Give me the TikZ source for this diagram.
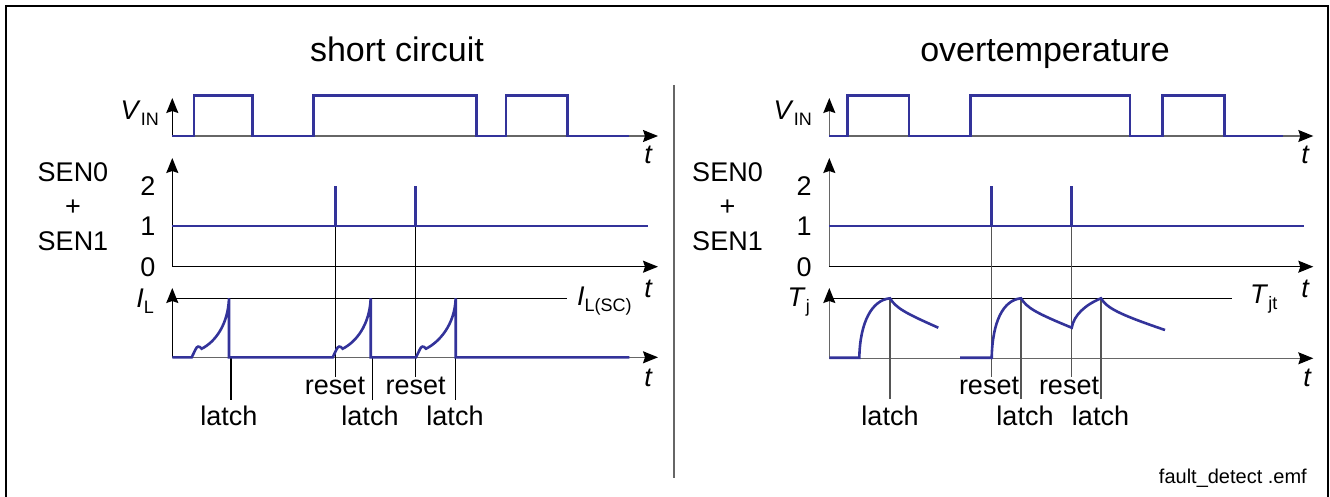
\documentclass[tikz,border=0pt]{standalone}
\usepackage{fontspec}
\setsansfont{Liberation Sans}
\usetikzlibrary{arrows.meta}

\definecolor{sigblue}{HTML}{33339A}
\definecolor{axisgray}{HTML}{666666}
\definecolor{markgray}{HTML}{555555}

\newcommand{\picwidth}{1330}
\newcommand{\picheight}{497}
\newcommand{\symsub}[2]{\textit{#1}\raisebox{-6pt}{\fontsize{18}{20}\selectfont #2}}

\tikzset{
  signal/.style={draw=sigblue, line width=2.6pt},
  axisarrow/.style={line width=1.2pt, -{Stealth[length=15pt, width=12pt, inset=2pt, color=black]}},
  marker/.style={line width=1.1pt},
  lbl/.style={font=\sffamily\fontsize{27}{34.5}\selectfont, inner sep=0pt},
  titlelbl/.style={font=\sffamily\fontsize{34}{40}\selectfont, inner sep=0pt},
  tlbl/.style={inner sep=0pt, font=\sffamily\itshape\fontsize{27}{32}\selectfont},
}

\begin{document}
\begin{tikzpicture}[x=1pt, y=-1pt]
  \useasboundingbox (0,0) rectangle (\picwidth, \picheight);

  % === FRAME ===
  \draw[line width=2pt] (5.5,505) -- (5.5,6) -- (1328,6) -- (1328,505);
  \draw[axisgray, line width=1.5pt] (674,85) -- (674,478);

  % === SHORT CIRCUIT ===
  \node[titlelbl, anchor=base] (titleSC) at (397,62) {short circuit};

  \node[lbl, anchor=base east] (vinSC) at (159,119.3) {\symsub{V}{IN}};
  \node[lbl, align=center] (senSC) at (73,206.7) {SEN0\\+\\SEN1};
  \node[lbl] (twoSC) at (148,186) {2};
  \node[lbl] (oneSC) at (148,226.7) {1};
  \node[lbl] (zeroSC) at (148,267) {0};
  \node[lbl, anchor=base east] (ilSC) at (154,307) {\symsub{I}{L}};
  \node[lbl, anchor=base west] (ilscSC) at (577,305) {\symsub{I}{L(SC)}};
  \node[tlbl] (tvinSC) at (648,155) {t};
  \node[tlbl] (tsenSC) at (648,289) {t};
  \node[tlbl] (tilSC) at (648,378) {t};

  \node[lbl, anchor=north] (resetSCa) at (335,377) {reset};
  \node[lbl, anchor=north] (resetSCb) at (415.7,377) {reset};
  \node[lbl, anchor=north] (latchSCa) at (229,406) {latch};
  \node[lbl, anchor=north] (latchSCb) at (370,406) {latch};
  \node[lbl, anchor=north] (latchSCc) at (455,406) {latch};

  % axes
  \draw[axisgray, line width=1.2pt] (172.3,136) -- (645,136);
  \draw[axisarrow] (645,136) -- (658,136);
  \draw[axisarrow] (172.3,136) -- (172.3,98);
  \draw[axisarrow] (172.3,266.7) -- (172.3,158);
  \draw[axisarrow] (172.3,266.7) -- (658,266.7);
  \draw[axisgray, line width=1.2pt] (172.3,357.3) -- (645,357.3);
  \draw[axisarrow] (645,357.3) -- (658,357.3);
  \draw[axisarrow] (172.3,357.3) -- (172.3,288);
  \draw[marker, shorten >=10pt] (172.3,298.3) -- (ilscSC.west |- 0,298.3);

  % markers
  \coordinate (rstSCa) at (335.3,226);
  \coordinate (rstSCb) at (415.7,226);
  \coordinate (ltSCa) at (231,357.3);
  \coordinate (ltSCb) at (372.3,357.3);
  \coordinate (ltSCc) at (455.5,357.3);
  \draw[marker] (rstSCa) -- (rstSCa |- resetSCa.north);
  \draw[marker] (rstSCb) -- (rstSCb |- resetSCb.north);
  \draw[marker, shorten >=6pt] (ltSCa) -- (ltSCa |- latchSCa.north);
  \draw[marker, shorten >=6pt] (ltSCb) -- (ltSCb |- latchSCb.north);
  \draw[marker, shorten >=6pt] (ltSCc) -- (ltSCc |- latchSCc.north);

  % signals
  \draw[signal] (172.3,136) -- (194,136) -- (194,95.7) -- (252.3,95.7) -- (252.3,136)
    -- (313.3,136) -- (313.3,95.7) -- (476.7,95.7) -- (476.7,136) -- (506,136)
    -- (506,95.7) -- (567.3,95.7) -- (567.3,136) -- (629.3,136);
  \draw[signal] (172.3,226) -- (648,226);
  \draw[signal] (rstSCa) -- (335.3,186);
  \draw[signal] (rstSCb) -- (415.7,186);
  \draw[signal] (172.3,357.3) -- (191.7,357.3) -- (195.5,349.5)
    .. controls (197,346) and (199,345.5) .. (201.7,348.7)
    .. controls (215,342) and (228,325) .. (229,298.3) -- (229,357.3)
    -- (332.7,357.3) -- (336.5,349.5)
    .. controls (338,346) and (340,345.5) .. (342.7,348.7)
    .. controls (356,342) and (369.7,325) .. (370.7,298.3) -- (370.7,357.3)
    -- (416,357.3) -- (419.8,349.5)
    .. controls (421.3,346) and (423.3,345.5) .. (426,348.7)
    .. controls (439.3,342) and (454.7,325) .. (455.7,298.3) -- (455.7,357.3)
    -- (629.3,357.3);

  % === OVERTEMPERATURE ===
  \node[titlelbl, anchor=base] (titleOT) at (1045,62) {overtemperature};

  \node[lbl, anchor=base east] (vinOT) at (812,119.3) {\symsub{V}{IN}};
  \node[lbl, align=center] (senOT) at (727.5,206.7) {SEN0\\+\\SEN1};
  \node[lbl] (twoOT) at (804,186) {2};
  \node[lbl] (oneOT) at (804,226.7) {1};
  \node[lbl] (zeroOT) at (804,267) {0};
  \node[lbl, anchor=base east] (tjOT) at (810,306.7) {\symsub{T}{j}};
  \node[lbl, anchor=base west] (tjtOT) at (1250,303.3) {\symsub{T}{jt}};
  \node[tlbl] (tvinOT) at (1305,155) {t};
  \node[tlbl] (tsenOT) at (1305,289) {t};
  \node[tlbl] (ttjOT) at (1307,378) {t};

  \node[lbl, anchor=north] (resetOTa) at (989,377) {reset};
  \node[lbl, anchor=north] (resetOTb) at (1069,377) {reset};
  \node[lbl, anchor=north] (latchOTa) at (890,406) {latch};
  \node[lbl, anchor=north] (latchOTb) at (1025,406) {latch};
  \node[lbl, anchor=north] (latchOTc) at (1100.5,406) {latch};

  % axes
  \draw[axisgray, line width=1.2pt] (829.3,136) -- (1300,136);
  \draw[axisarrow] (1300,136) -- (1313.3,136);
  \draw[axisarrow, axisgray] (829.3,136) -- (829.3,98);
  \draw[axisarrow, axisgray] (829.3,266.7) -- (829.3,158);
  \draw[axisarrow] (829.3,266.7) -- (1313.3,266.7);
  \draw[axisgray, line width=1.2pt] (829.3,358.3) -- (1300,358.3);
  \draw[axisarrow] (1300,358.3) -- (1313.3,358.3);
  \draw[axisarrow, axisgray] (829.3,358.3) -- (829.3,288);
  \draw[marker] (829.3,298.3) -- (1231.7,298.3);

  % markers
  \coordinate (rstOTa) at (991.7,226);
  \coordinate (rstOTb) at (1071.7,226);
  \coordinate (ltOTa) at (890,298.3);
  \coordinate (ltOTb) at (1021,298.3);
  \coordinate (ltOTc) at (1101,298.3);
  \draw[marker, markgray] (rstOTa) -- (rstOTa |- resetOTa.north);
  \draw[marker, markgray] (rstOTb) -- (rstOTb |- resetOTb.north);
  \draw[marker, markgray, shorten >=7pt] (ltOTa) -- (ltOTa |- latchOTa.north);
  \draw[marker, markgray, shorten >=7pt] (ltOTb) -- (ltOTb |- latchOTb.north);
  \draw[marker, markgray, shorten >=7pt] (ltOTc) -- (ltOTc |- latchOTc.north);

  % signals
  \draw[signal] (829.3,136) -- (847.7,136) -- (847.7,95.7) -- (909,95.7) -- (909,136)
    -- (970.7,136) -- (970.7,95.7) -- (1130,95.7) -- (1130,136) -- (1162.3,136)
    -- (1162.3,95.7) -- (1224.3,95.7) -- (1224.3,136) -- (1282.7,136);
  \draw[signal] (829.3,226) -- (1304.3,226);
  \draw[signal] (rstOTa) -- (991.7,186);
  \draw[signal] (rstOTb) -- (1071.7,186);
  \draw[signal] (829.3,357.7) -- (859.3,357.7)
    .. controls (860,322) and (872,300) .. (ltOTa)
    .. controls (896,308) and (905,313) .. (938.3,327.7);
  \draw[signal] (960,357.7) -- (991.7,357.7)
    .. controls (992.4,322) and (1003,300) .. (ltOTb)
    .. controls (1027,308) and (1036,313) .. (1071.7,327.7)
    .. controls (1074,315) and (1085,305) .. (ltOTc)
    .. controls (1107,308) and (1118,314) .. (1165,330);

  % file name
  \node[inner sep=0pt, anchor=base east, font=\sffamily\fontsize{20}{24}\selectfont]
    (fileName) at (1307,483) {fault\_detect .emf};
\end{tikzpicture}
\end{document}
